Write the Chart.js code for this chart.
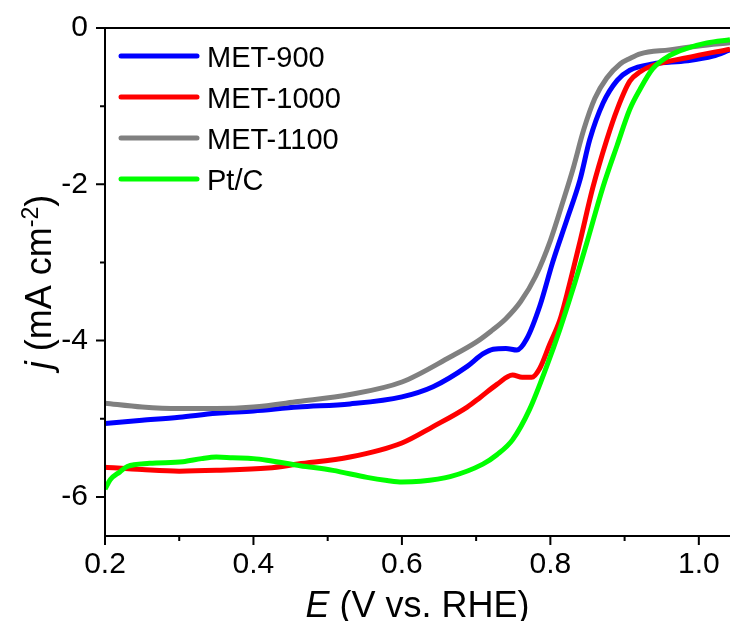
<!DOCTYPE html>
<html>
<head>
<meta charset="utf-8">
<script src="https://cdn.jsdelivr.net/npm/chart.js@4.4.1/dist/chart.umd.min.js"></script>
<style>
  html, body { margin: 0; padding: 0; background: #fff; }
  #wrap { width: 730px; height: 621px; position: relative; }
</style>
</head>
<body>
<div id="wrap"><canvas id="c" width="730" height="621"></canvas></div>
<script>
// ---- data ----
const seriesNames = ['MET-900', 'MET-1000', 'MET-1100', 'Pt/C'];
const seriesColors = ['#0000ff', '#ff0000', '#808080', '#00ff00'];

const met900X = [0.20,0.25,0.30,0.35,0.40,0.46,0.53,0.60,0.642,0.688,0.709,0.723,0.74,0.755,0.768,0.786,0.803,0.822,0.84,0.853,0.871,0.89,0.907,0.938,0.984,1.019,1.042];
const met900Y = [-5.06,-5.02,-4.98,-4.93,-4.90,-4.85,-4.81,-4.72,-4.59,-4.33,-4.17,-4.11,-4.10,-4.12,-3.98,-3.55,-3.00,-2.46,-1.94,-1.43,-0.96,-0.67,-0.54,-0.46,-0.42,-0.36,-0.28];

const met1000X = [0.20,0.25,0.30,0.35,0.42,0.46,0.53,0.60,0.642,0.688,0.705,0.728,0.749,0.762,0.775,0.786,0.799,0.813,0.822,0.84,0.857,0.876,0.89,0.907,0.921,0.938,0.984,1.042];
const met1000Y = [-5.62,-5.65,-5.67,-5.66,-5.63,-5.58,-5.49,-5.31,-5.10,-4.85,-4.73,-4.56,-4.44,-4.47,-4.47,-4.35,-4.05,-3.73,-3.42,-2.73,-2.05,-1.43,-1.04,-0.68,-0.56,-0.48,-0.38,-0.27];

const met1100X = [0.20,0.25,0.30,0.35,0.40,0.46,0.53,0.60,0.665,0.70,0.72,0.74,0.76,0.78,0.80,0.817,0.83,0.845,0.86,0.876,0.894,0.907,0.921,0.96,1.00,1.042];
const met1100Y = [-4.80,-4.85,-4.87,-4.87,-4.85,-4.78,-4.69,-4.53,-4.21,-4.02,-3.88,-3.72,-3.50,-3.18,-2.72,-2.22,-1.82,-1.30,-0.90,-0.64,-0.46,-0.39,-0.33,-0.28,-0.23,-0.19];

const ptcX = [0.200,0.207,0.22,0.23,0.26,0.305,0.33,0.35,0.372,0.40,0.418,0.463,0.507,0.553,0.58,0.60,0.625,0.665,0.709,0.728,0.749,0.772,0.795,0.813,0.83,0.849,0.871,0.89,0.907,0.921,0.938,0.961,0.984,1.011,1.042];
const ptcY = [-5.90,-5.78,-5.68,-5.61,-5.57,-5.55,-5.51,-5.49,-5.50,-5.51,-5.53,-5.60,-5.66,-5.75,-5.79,-5.81,-5.80,-5.74,-5.58,-5.46,-5.27,-4.88,-4.33,-3.85,-3.35,-2.75,-2.03,-1.50,-1.04,-0.78,-0.52,-0.35,-0.26,-0.19,-0.15];

const xTicks = [0.2, 0.4, 0.6, 0.8, 1.0];
const xMinorTicks = [0.3, 0.5, 0.7, 0.9];
const yTicks = [0, -2, -4, -6];
const yMinorTicks = [-1, -3, -5];
const xRange = [0.2, 1.042];
const yRange = [-6.5, 0];

const allX = [met900X, met1000X, met1100X, ptcX];
const allY = [met900Y, met1000Y, met1100Y, ptcY];
const drawOrder = [3, 2, 1, 0]; // later series drawn on top

const FONT = '"Liberation Sans", Arial, sans-serif';

const datasets = seriesNames.map((name, i) => ({
  label: name,
  data: allX[i].map((x, k) => ({ x: x, y: allY[i][k] })),
  borderColor: seriesColors[i],
  backgroundColor: seriesColors[i],
  borderWidth: 5,
  pointRadius: 0,
  fill: false,
  cubicInterpolationMode: 'monotone',
  order: drawOrder[i]
}));

const framePlugin = {
  id: 'frame',
  afterDraw(chart) {
    const ctx = chart.ctx;
    const a = chart.chartArea;
    const xs = chart.scales.x, ys = chart.scales.y;
    ctx.save();
    ctx.strokeStyle = '#000';
    ctx.lineWidth = 2;
    ctx.lineCap = 'butt';
    ctx.beginPath();
    ctx.moveTo(a.left, a.top); ctx.lineTo(a.left, a.bottom + 1);
    ctx.moveTo(a.left - 1, a.bottom); ctx.lineTo(a.right, a.bottom);
    ctx.moveTo(a.left, a.top); ctx.lineTo(a.right, a.top);
    yTicks.forEach(v => { const p = ys.getPixelForValue(v); ctx.moveTo(a.left - 9, p); ctx.lineTo(a.left, p); });
    yMinorTicks.forEach(v => { const p = ys.getPixelForValue(v); ctx.moveTo(a.left - 5, p); ctx.lineTo(a.left, p); });
    xTicks.forEach(v => { const p = xs.getPixelForValue(v); ctx.moveTo(p, a.bottom); ctx.lineTo(p, a.bottom + 9); });
    xMinorTicks.forEach(v => { const p = xs.getPixelForValue(v); ctx.moveTo(p, a.bottom); ctx.lineTo(p, a.bottom + 5); });
    ctx.stroke();

    // legend
    chart.data.datasets.forEach((ds, i) => {
      const y = 56 + 41 * i;
      ctx.strokeStyle = ds.borderColor;
      ctx.lineWidth = 5;
      ctx.lineCap = 'round';
      ctx.beginPath();
      ctx.moveTo(121, y); ctx.lineTo(197, y);
      ctx.stroke();
      ctx.fillStyle = '#000';
      ctx.font = '29px ' + FONT;
      ctx.textAlign = 'left';
      ctx.textBaseline = 'alphabetic';
      ctx.fillText(ds.label, 207, y + 11);
    });

    // x axis title
    ctx.fillStyle = '#000';
    ctx.textBaseline = 'alphabetic';
    const big = '36px ' + FONT;
    const bigIt = 'italic 36px ' + FONT;
    const xParts = [['E', bigIt], [' (V vs. RHE)', big]];
    let tw = 0;
    xParts.forEach(p => { ctx.font = p[1]; tw += ctx.measureText(p[0]).width; });
    let cx = (a.left + a.right) / 2 - tw / 2;
    xParts.forEach(p => { ctx.font = p[1]; ctx.textAlign = 'left'; ctx.fillText(p[0], cx, 617); cx += ctx.measureText(p[0]).width; });

    // y axis title (rotated)
    ctx.save();
    ctx.translate(51, (a.top + a.bottom) / 2);
    ctx.rotate(-Math.PI / 2);
    const sup = '23px ' + FONT;
    const yParts = [['j', bigIt, 0], [' (mA cm', big, 0], ['-2', sup, -13], [')', big, 0]];
    tw = 0;
    yParts.forEach(p => { ctx.font = p[1]; tw += ctx.measureText(p[0]).width; });
    cx = -tw / 2;
    yParts.forEach(p => { ctx.font = p[1]; ctx.textAlign = 'left'; ctx.fillText(p[0], cx, p[2]); cx += ctx.measureText(p[0]).width; });
    ctx.restore();
    ctx.restore();
  }
};

new Chart(document.getElementById('c'), {
  type: 'line',
  data: { datasets: datasets },
  options: {
    responsive: false,
    animation: false,
    devicePixelRatio: 1,
    layout: { padding: { top: 28, right: 0, left: 0, bottom: 0 } },
    plugins: { legend: { display: false }, tooltip: { enabled: false }, title: { display: false } },
    scales: {
      x: {
        type: 'linear',
        min: xRange[0], max: xRange[1],
        grid: { display: false, drawTicks: false },
        border: { display: false },
        afterBuildTicks: s => { s.ticks = xTicks.map(v => ({ value: v })); },
        afterFit: s => { s.height = 85; s.paddingLeft = 0; s.paddingRight = 0; },
        ticks: {
          color: '#000',
          font: { family: FONT, size: 30 },
          padding: 11,
          maxRotation: 0,
          autoSkip: false,
          callback: v => Number(v).toFixed(1)
        }
      },
      y: {
        type: 'linear',
        min: yRange[0], max: yRange[1],
        grid: { display: false, drawTicks: false },
        border: { display: false },
        afterBuildTicks: s => { s.ticks = yTicks.map(v => ({ value: v })); },
        afterFit: s => { s.width = 105; s.paddingTop = 0; s.paddingBottom = 0; },
        ticks: {
          color: '#000',
          font: { family: FONT, size: 30 },
          padding: 17,
          autoSkip: false,
          callback: v => String(v)
        }
      }
    }
  },
  plugins: [framePlugin]
});
</script>
</body>
</html>
